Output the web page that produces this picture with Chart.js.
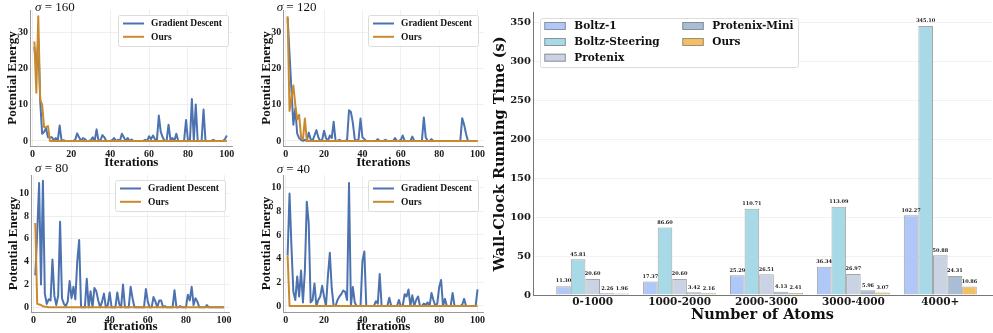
<!DOCTYPE html>
<html><head><meta charset="utf-8">
<script src="https://cdn.jsdelivr.net/npm/chart.js@4/dist/chart.umd.min.js"></script>
<style>
html,body{margin:0;padding:0;background:#fff;width:993px;height:333px;overflow:hidden;position:relative;}
canvas{position:absolute;}
</style></head><body>
<canvas id="p1"></canvas><canvas id="p2"></canvas><canvas id="p3"></canvas><canvas id="p4"></canvas><canvas id="bar"></canvas>
<script>
// ---------- line-plot data (potential energy per iteration, iterations 1..100) ----------
const gd160 = [26,20,28,11,2,2.5,3.5,1,1,1,
0.2,0.8,0,4.3,0,0.2,0,0,0,0,
0,0.3,2.1,1,0,0.8,0.5,0,0,0.2,
1,0,3.2,0,0.2,1.6,1,0,0,0,
0.2,0.8,0,0.3,0,2,1,0,0.8,0,
0.4,0,0,0,0,0,0,0.3,0,1.3,
0.5,1.5,0.5,0,7,2.5,1,0,0,4.5,
0.3,0.8,0,2,0,0,0,0,5.8,0,
0,11.6,0,10.1,0,0,0,8.7,0,0,
0,0,0.3,0,0,0,0,0,0.5,1.5];
const ours160 = [27.5,13.3,34.5,11.5,10,3.8,3.8,4.1,0,0,
0,0,0,0,0,0,0,0,0,0, 0,0,0,0,0,0,0,0,0,0, 0,0,0,0,0,0,0,0,0,0,
0,0,0,0,0,0,0,0,0,0, 0,0,0,0,0,0,0,0,0,0, 0,0,0,0,0,0,0,0,0,0,
0,0,0,0,0,0,0,0,0,0, 0,0,0,0,0,0,0,0,0,0, 0,0,0,0,0,0,0,0,0,0];
const gd120 = [34,24,14,4.5,9,2,0.8,0.3,0,0.3,
0,2.3,0.5,0,1.5,3,1,0,0.3,2.8,
0.8,0,1.5,0.8,5.3,0,0,0.3,0,0,
0,0.3,8.5,8,5,0.5,0,0.5,6.2,1,
0.5,0,0,0,0,0,0,0.5,0,0,
0,0.3,0,0,0,0,0.8,0,0,0.3,
1.5,0,0,0,0,1.2,0,0,0,0,
0,6.5,1,0,0,0.5,0,0,0,0,
0,0,0,0,0,0,0,0,0,0,
0,6.3,4.5,2,0,0,0,0,0,0];
const ours120 = [34.5,8.3,12,15.3,10,6,7.2,1.2,0.5,6.2,
0,0,0,0,0,0,0,0,0,0, 0,0,0,0,0,0,0,0,0,0, 0,0,0,0,0,0,0,0,0,0,
0,0,0,0,0,0,0,0,0,0, 0,0,0,0,0,0,0,0,0,0, 0,0,0,0,0,0,0,0,0,0,
0,0,0,0,0,0,0,0,0,0, 0,0,0,0,0,0,0,0,0,0, 0,0,0,0,0,0,0,0,0,0];
const gd80 = [2.8,6.5,10.9,2.0,11.1,1.2,0.3,0.7,0.6,4.2,
1.0,0.2,1.0,7.5,0.8,0.3,0.1,0.5,2.3,0.8,
1.8,0.7,4.0,5.9,0,0,0,2.5,0,1.4,
0,1.7,1.4,0.6,0,0.5,1.2,0,0.2,1.3,
0,0,0,1.3,0.3,0,2.0,0,0,0,
1.8,0.8,0,0,0,0,0,0,1.6,0.5,
0,0,0.9,0.5,0,0.6,0.6,0,0.1,0,
0,0,0,1.5,0,0,0.1,0,0,0,
1.1,0.6,1.8,0.2,0.8,0.5,0,0,0,0,
0.2,0,0,0,0,0,0,0,0,0];
const ours80 = [7.4,0.3,0.25,0.2,0.1,0.05,0.05,0,0,0,
0,0,0,0,0,0,0,0,0,0, 0,0,0,0,0,0,0,0,0,0, 0,0,0,0,0,0,0,0,0,0,
0,0,0,0,0,0,0,0,0,0, 0,0,0,0,0,0,0,0,0,0, 0,0,0,0,0,0,0,0,0,0,
0,0,0,0,0,0,0,0,0,0, 0,0,0,0,0,0,0,0,0,0, 0,0,0,0,0,0,0,0,0,0];
const gd40 = [4.3,9.5,5,1.2,0.5,2.5,0.8,3.0,0.3,3.0,
8.8,7.0,0.3,0.5,1.9,0,0.5,0.8,1.7,0.8,
0,2.5,4.5,1.5,0,0,0.5,0.8,1.0,1.3,
1.2,0.5,10.4,0,1.6,0.3,0,0,0,3.8,
4.6,0,0,0,0,0,0.4,0.2,2.7,0,
0,0,0,0.7,0,0,0,0,0.5,0,
0,1.0,0.8,1.4,0,0.9,0,0.5,0.8,0,
0,0.2,0.1,0.3,0,1.1,0.5,0,0.2,1.6,
2.2,0,0.6,0,0,0,1.1,0,0,0,
0,0.1,0.6,0,0,0,0,0,0,1.4];
const ours40 = [4.3,0,0,0,0,0,0,0,0,0,
0,0,0,0,0,0,0,0,0,0, 0,0,0,0,0,0,0,0,0,0, 0,0,0,0,0,0,0,0,0,0,
0,0,0,0,0,0,0,0,0,0, 0,0,0,0,0,0,0,0,0,0, 0,0,0,0,0,0,0,0,0,0,
0,0,0,0,0,0,0,0,0,0, 0,0,0,0,0,0,0,0,0,0, 0,0,0,0,0,0,0,0,0,0];
const iterTicks = [0,20,40,60,80,100];
const energyTicksHigh = [0,10,20,30];
const energyTicksLow = [0,2,4,6,8,10];

// ---------- bar data (wall-clock seconds) ----------
const atomBins = ['0-1000','1000-2000','2000-3000','3000-4000','4000+'];
const boltz1 = [11.30,17.37,25.29,36.34,102.27];
const boltzSteering = [45.81,86.60,110.71,113.09,345.10];
const protenix = [20.60,20.60,26.51,26.97,50.88];
const protenixMini = [2.26,3.42,4.13,5.96,24.31];
const oursTime = [1.96,2.16,2.41,3.07,10.86];
const timeTicks = [0,50,100,150,200,250,300,350];

const BLUE='#4c72b0', ORANGE='#c98a2e', GRID='#ebebeb', SPINE='#9a9a9a';
const SERIF='"Liberation Serif", "Times New Roman", serif';
const DSERIF='"DejaVu Serif", serif';

function place(id,L,T,W,H){const c=document.getElementById(id);c.width=W;c.height=H;
 c.style.left=L+'px';c.style.top=T+'px';c.style.width=W+'px';c.style.height=H+'px';return c;}

const sigmaTitle={id:'sigmaTitle',afterDraw(chart,args,o){
 const c=chart.ctx;c.save();c.fillStyle='#111';c.textBaseline='alphabetic';
 c.font='italic '+o.size+'px '+SERIF;c.fillText('σ',o.x,o.y);
 const w=c.measureText('σ').width;c.font=o.size+'px '+SERIF;c.fillText(' = '+o.text,o.x+w,o.y);c.restore();}};

const lineLegend={id:'lineLegend',afterDraw(chart,args,o){
 const a=chart.chartArea,c=chart.ctx;const w=o.w,h=31,x=Math.round(a.right-o.dx-w),y=Math.round(a.top+5);
 c.save();c.fillStyle='rgba(255,255,255,0.9)';c.strokeStyle='#dcdcdc';c.lineWidth=1;
 c.beginPath();c.roundRect(x+0.5,y+0.5,w,h,2);c.fill();c.stroke();
 chart.data.datasets.forEach((ds,i)=>{const cy=y+8.5+i*13.3;
  c.strokeStyle=ds.borderColor;c.lineWidth=2;c.beginPath();c.moveTo(x+5,cy);c.lineTo(x+26,cy);c.stroke();
  c.fillStyle='#111';c.font='bold 9.5px '+SERIF;c.textBaseline='middle';c.fillText(ds.label,x+33,cy+0.5);});
 c.restore();}};

function lineChart(id,L,T,W,H,area,gd,ou,ylim,yticks,sig,yTitleX){
 const cv=place(id,L,T,W,H);
 const pts=arr=>arr.map((v,i)=>({x:i+1,y:v}));
 const tickFont={family:SERIF,size:10,weight:'bold'};
 return new Chart(cv,{type:'line',
  data:{datasets:[
   {label:'Gradient Descent',data:pts(gd),borderColor:BLUE,borderWidth:2,pointRadius:0,tension:0,order:2,borderJoinStyle:'round'},
   {label:'Ours',data:pts(ou),borderColor:ORANGE,borderWidth:2,pointRadius:0,tension:0,order:1,borderJoinStyle:'round'}]},
  options:{responsive:false,animation:false,devicePixelRatio:1,
   layout:{padding:{top:area.top-T,right:L+W-area.right,left:0,bottom:0}},
   plugins:{legend:{display:false},tooltip:{enabled:false},
    sigmaTitle:{text:sig.text,x:sig.x-L,y:sig.y-T,size:13},lineLegend:{w:110,dx:5}},
   scales:{
    x:{type:'linear',min:-1.25,max:103,
     afterBuildTicks:s=>{s.ticks=iterTicks.map(v=>({value:v}));},
     afterFit:s=>{s.height=T+H-area.bottom;},
     grid:{color:GRID,lineWidth:0.8,drawTicks:false},border:{color:SPINE,width:1},
     ticks:{font:tickFont,color:'#1a1a1a',padding:2,maxRotation:0,autoSkip:false},
     title:{display:true,text:'Iterations',color:'#111',font:{family:SERIF,size:13,weight:'bold',lineHeight:1},padding:{top:0,bottom:area.xtp}}},
    y:{type:'linear',min:ylim[0],max:ylim[1],
     afterBuildTicks:s=>{s.ticks=yticks.map(v=>({value:v}));},
     afterFit:s=>{s.width=area.left-L;},
     grid:{color:GRID,lineWidth:0.8,drawTicks:false},border:{color:SPINE,width:1},
     ticks:{font:tickFont,color:'#1a1a1a',padding:2},
     title:{display:true,text:'Potential Energy',color:'#111',font:{family:SERIF,size:13,weight:'bold',lineHeight:1},padding:{top:yTitleX-L-6.5,bottom:0}}}}},
  plugins:[sigmaTitle,lineLegend]});
}

lineChart('p1',0,0,240,170,{left:30,right:232.7,top:10,bottom:146,xtp:1.2},gd160,ours160,[-1.4,36.2],energyTicksHigh,{text:'160',x:35,y:11},13);
lineChart('p2',240,0,250,170,{left:283.3,right:483.3,top:10,bottom:146,xtp:1.2},gd120,ours120,[-1.4,36.2],energyTicksHigh,{text:'120',x:276.7,y:11},266.7);
lineChart('p3',0,160,240,173,{left:31,right:229.8,top:175,bottom:312,xtp:0},gd80,ours80,[-0.41,11.6],energyTicksLow,{text:'80',x:35,y:172},13.3);
lineChart('p4',240,160,250,173,{left:283.3,right:483.3,top:175,bottom:312,xtp:0},gd40,ours40,[-0.51,11.07],energyTicksLow,{text:'40',x:276.7,y:173},266.7);

// ---------- bar chart ----------
const barSeries=[
 {label:'Boltz-1',vals:boltz1,color:'#b0c8f8'},
 {label:'Boltz-Steering',vals:boltzSteering,color:'#a8d9e6'},
 {label:'Protenix',vals:protenix,color:'#c9d3e4'},
 {label:'Protenix-Mini',vals:protenixMini,color:'#aabdd6'},
 {label:'Ours',vals:oursTime,color:'#f2c062'}];

const valueLabels={id:'valueLabels',afterDatasetsDraw(chart){
 const c=chart.ctx;c.save();c.fillStyle='#222';c.font='bold 5px '+DSERIF;c.textAlign='center';c.textBaseline='bottom';
 chart.data.datasets.forEach((ds,i)=>{chart.getDatasetMeta(i).data.forEach((bar,j)=>{
  c.fillText(ds.data[j].y.toFixed(2),bar.x,bar.y-2.5);});});c.restore();}};

const barLegend={id:'barLegend',afterDraw(chart){
 const c=chart.ctx;const L=490;c.save();
 const bx=540-L,by=18,bw=258,bh=49;
 c.fillStyle='rgba(255,255,255,0.9)';c.strokeStyle='#dcdcdc';c.lineWidth=1;
 c.beginPath();c.roundRect(bx+0.5,by+0.5,bw,bh,2);c.fill();c.stroke();
 const pos=[[544.3,26],[544.3,42],[544.3,57.7],[682.3,26],[682.3,42]];
 chart.data.datasets.forEach((ds,i)=>{const [px,py]=pos[i];const x=px-L;
  c.fillStyle=ds.backgroundColor;c.fillRect(x,py-4,21.5,8);
  c.strokeStyle='rgba(130,130,130,0.8)';c.lineWidth=1;c.strokeRect(x+0.5,py-3.5,20.5,7);
  c.fillStyle='#111';c.font='bold 10.5px '+DSERIF;c.textBaseline='middle';c.fillText(ds.label,x+30,py+0.5);});
 c.restore();}};

(function(){
 const L=490,T=0,W=503,H=333;const area={left:533,right:992,top:12.6,bottom:295};
 const cv=place('bar',L,T,W,H);
 new Chart(cv,{type:'bar',
  data:{datasets:barSeries.map(s=>({label:s.label,data:s.vals.map((v,i)=>({x:i,y:v})),
   backgroundColor:s.color,borderColor:'rgba(135,135,135,0.75)',borderWidth:1,
   categoryPercentage:0.84,barPercentage:1}))},
  options:{responsive:false,animation:false,devicePixelRatio:1,
   layout:{padding:{top:area.top,right:L+W-area.right,left:0,bottom:0}},
   plugins:{legend:{display:false},tooltip:{enabled:false}},
   scales:{
    x:{type:'linear',min:-0.687,max:4.595,offset:false,
     afterBuildTicks:s=>{s.ticks=atomBins.map((b,i)=>({value:i}));},
     afterFit:s=>{s.height=T+H-area.bottom;},
     grid:{display:false,drawTicks:false},border:{color:'#777',width:1},
     ticks:{font:{family:DSERIF,size:10.5,weight:'bold'},color:'#1a1a1a',padding:1,maxRotation:0,autoSkip:false,callback:v=>atomBins[v]},
     title:{display:true,text:'Number of Atoms',color:'#111',font:{family:DSERIF,size:14.5,weight:'bold',lineHeight:1},padding:{top:0,bottom:10.5}}},
    y:{type:'linear',min:0,max:362.4,
     afterBuildTicks:s=>{s.ticks=timeTicks.map(v=>({value:v}));},
     afterFit:s=>{s.width=area.left-L;},
     grid:{color:'#efefef',lineWidth:0.8,drawTicks:false},border:{color:'#777',width:1},
     ticks:{font:{family:DSERIF,size:10,weight:'bold'},color:'#1a1a1a',padding:2},
     title:{display:true,text:'Wall-Clock Running Time (s)',color:'#111',font:{family:DSERIF,size:14.5,weight:'bold',lineHeight:1},padding:{top:2.5,bottom:0}}}}},
  plugins:[valueLabels,barLegend]});
})();
</script>
</body></html>
